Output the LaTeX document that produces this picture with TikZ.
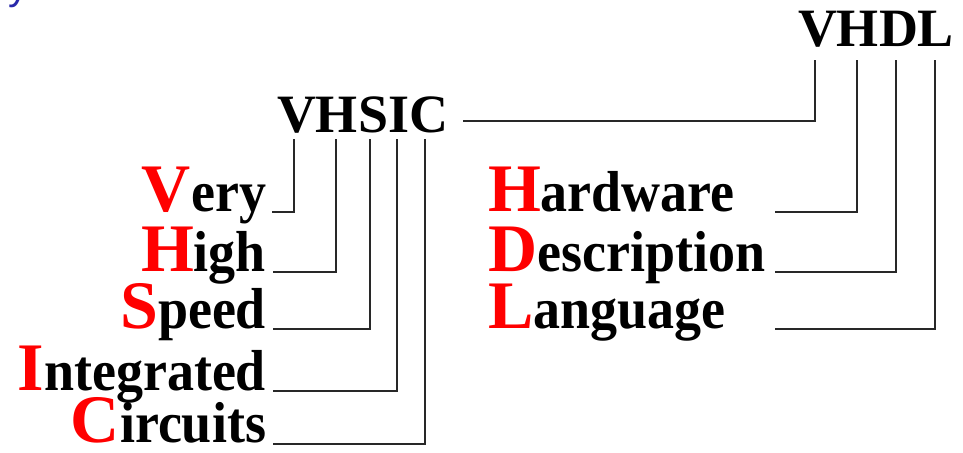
\documentclass[tikz,border=0pt]{standalone}
\usepackage{fontspec}
\setmainfont{Liberation Serif}
\newfontfamily\titlefont{Liberation Sans}
\usetikzlibrary{positioning}
\definecolor{capred}{RGB}{255,0,0}
\definecolor{titleblue}{RGB}{40,40,170}
\definecolor{linegray}{RGB}{40,40,40}
\newcommand{\redinit}[1]{{\color{capred}\fontsize{34}{36}\selectfont #1}}
\newcommand{\initword}[2]{\redinit{#1}\scalebox{1}[1.07]{#2}}

\begin{document}
\begin{tikzpicture}[x=0.5pt,y=0.5pt,line width=1pt,draw=linegray,
  word/.style={inner sep=0pt,font=\bfseries\fontsize{27}{30}\selectfont},
  acro/.style={inner sep=0pt,font=\bfseries\fontsize{27}{30}\selectfont}]
  \useasboundingbox (0,0) rectangle (963,453);
  % cut-off title
  \node[anchor=base west,inner sep=0pt,text=titleblue,
    font=\titlefont\fontsize{20}{24}\selectfont] (title) at (8,453) {y};
  % acronyms
  \node[acro,anchor=base west] (vhsic) at (276,320) {VHSIC};
  \node[acro,anchor=base west] (vhdl) at (797,406) {VHDL};
  % words of VHSIC
  \node[word,anchor=base east] (very) at (267,241) {\initword{V}{ery}};
  \node[word,anchor=base east] (high) at (267,181) {\initword{H}{igh}};
  \node[word,anchor=base east] (speed) at (267,124) {\initword{S}{peed}};
  \node[word,anchor=base east] (integ) at (267,62) {\initword{I}{ntegrated}};
  \node[word,anchor=base east] (circ) at (267,10) {\initword{C}{ircuits}};
  % words of VHDL
  \node[word,anchor=base west] (hard) at (487,241) {\initword{H}{ardware}};
  \node[word,anchor=base west] (descr) at (487,181) {\initword{D}{escription}};
  \node[word,anchor=base west] (lang) at (487,124) {\initword{L}{anguage}};
  % tops of the letter lines
  \coordinate (sV) at (294,314);
  \coordinate (sH) at (336,314);
  \coordinate (sS) at (370,314);
  \coordinate (sI) at (397,314);
  \coordinate (sC) at (425,314);
  \coordinate (dV) at (815,393);
  \coordinate (dH) at (857,393);
  \coordinate (dD) at (896,393);
  \coordinate (dL) at (935,393);
  \coordinate (rstart) at (775,0);
  % VHSIC letters
  \draw ([xshift=2.5pt]very.base east) -| (sV);
  \draw ([xshift=3pt]high.base east) -| (sH);
  \draw ([xshift=3pt]speed.base east) -| (sS);
  \draw ([xshift=3pt]integ.base east) -| (sI);
  \draw ([xshift=3pt,yshift=-0.5pt]circ.base east) -| (sC);
  % VHSIC is the V of VHDL
  \draw ([xshift=7pt,yshift=6pt]vhsic.base east) -| (dV);
  % VHDL letters
  \draw (hard.base east -| rstart) -| (dH);
  \draw (descr.base east -| rstart) -| (dD);
  \draw (lang.base east -| rstart) -| (dL);
\end{tikzpicture}
\end{document}
